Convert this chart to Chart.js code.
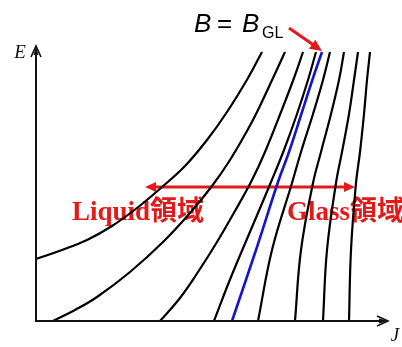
<!DOCTYPE html>
<html>
<head>
<meta charset="utf-8">
<script src="https://cdn.jsdelivr.net/npm/chart.js@4"></script>
<style>
  html, body { margin: 0; padding: 0; background: #ffffff; }
  #wrap { width: 402px; height: 347px; }
</style>
</head>
<body>
<div id="wrap"><canvas id="c" width="402" height="347"></canvas></div>
<script>
// E–J characteristic curves for a family of fields B (schematic units)
const J1 = [0, 26, 51, 76, 101, 126, 149, 171, 191, 212, 226];
const E1 = [62, 71, 81, 95, 113, 134, 155, 181, 209, 243, 269];
const J2 = [17, 39, 61, 94, 127, 154, 176, 194, 211, 221, 237, 249];
const E2 = [0, 11, 24, 49, 79, 108, 135, 161, 190, 209, 243, 269];
const J3 = [124, 144, 162, 181, 199, 216, 229, 245, 258, 267];
const E3 = [0, 23, 49, 79, 110, 141, 169, 209, 243, 269];
const J4 = [178, 193, 208, 222, 235, 248, 261, 272, 280];
const E4 = [0, 39, 75, 108, 139, 171, 207, 241, 269];
// B = B_GL
const JGL = [196, 221, 242, 253, 266, 277, 286];
const EGL = [0, 74, 139, 169, 209, 243, 269];
// glass-side curves share the same E samples
const EG = [0, 71, 138, 169, 207, 241, 269];
const J6 = [222, 236, 256, 265, 277, 287, 294];
const J7 = [259, 265, 277, 285, 295, 303, 308];
const J8 = [287, 291, 300, 306, 313, 318, 322];
const J9 = [313, 315, 320, 324, 328, 331, 334];

const J_MAX = 352;
const E_MAX = 275;

const RED = '#e41a1a';

function pts(js, es) { return js.map((j, i) => ({ x: j, y: es[i] })); }

function curve(js, es, color, width) {
  return {
    data: pts(js, es),
    borderColor: color,
    borderWidth: width,
    pointRadius: 0,
    showLine: true,
    fill: false,
    tension: 0.4,
    clip: false
  };
}

function arrowHead(ctx, x0, y0, x1, y1, len, half) {
  const a = Math.atan2(y1 - y0, x1 - x0);
  ctx.beginPath();
  ctx.moveTo(x1, y1);
  ctx.lineTo(x1 - len * Math.cos(a) + half * Math.sin(a), y1 - len * Math.sin(a) - half * Math.cos(a));
  ctx.lineTo(x1 - len * Math.cos(a) - half * Math.sin(a), y1 - len * Math.sin(a) + half * Math.cos(a));
  ctx.closePath();
  ctx.fill();
}

// Red region arrows and labels go under the curves
const regionLabels = {
  id: 'regionLabels',
  beforeDatasetsDraw(chart) {
    const { ctx, scales: { x, y } } = chart;
    ctx.save();
    ctx.strokeStyle = RED;
    ctx.fillStyle = RED;
    ctx.lineWidth = 3;
    const yA = y.getPixelForValue(134);
    const xL = x.getPixelForValue(109), xR = x.getPixelForValue(319);
    ctx.beginPath();
    ctx.moveTo(xL + 8, yA);
    ctx.lineTo(xR - 8, yA);
    ctx.stroke();
    arrowHead(ctx, xR, yA, xL, yA, 11, 5);
    arrowHead(ctx, xL, yA, xR, yA, 11, 5);

    ctx.font = 'bold 27px "Liberation Serif", "Noto Sans CJK JP", serif';
    ctx.textBaseline = 'alphabetic';
    ctx.textAlign = 'left';
    const yT = y.getPixelForValue(101);
    ctx.fillText('Liquid領域', x.getPixelForValue(36), yT);
    ctx.fillText('Glass領域', x.getPixelForValue(251), yT);
    ctx.restore();
  }
};

// Axes with arrow tips, axis letters and the B = B_GL callout
const axesAndCallout = {
  id: 'axesAndCallout',
  afterDatasetsDraw(chart) {
    const { ctx, scales: { x, y } } = chart;
    const x0 = x.getPixelForValue(0), xEnd = x.getPixelForValue(J_MAX);
    const y0 = y.getPixelForValue(0), yEnd = y.getPixelForValue(E_MAX);
    ctx.save();
    ctx.strokeStyle = '#111';
    ctx.fillStyle = '#111';
    ctx.lineWidth = 2;
    ctx.lineCap = 'butt';
    ctx.beginPath();
    ctx.moveTo(x0, yEnd + 4);
    ctx.lineTo(x0, y0);
    ctx.lineTo(xEnd - 4, y0);
    ctx.stroke();
    // arrow tips
    ctx.lineWidth = 1.6;
    ctx.beginPath();
    ctx.moveTo(x0 - 5, yEnd + 11);
    ctx.lineTo(x0, yEnd);
    ctx.lineTo(x0 + 5, yEnd + 11);
    ctx.stroke();
    arrowHead(ctx, x0, y0, x0, yEnd, 9, 2.5);
    ctx.beginPath();
    ctx.moveTo(xEnd - 11, y0 - 5);
    ctx.lineTo(xEnd, y0);
    ctx.lineTo(xEnd - 11, y0 + 5);
    ctx.stroke();
    arrowHead(ctx, x0, y0, xEnd, y0, 9, 2.5);

    ctx.font = 'italic 19px "Liberation Serif", serif';
    ctx.textBaseline = 'alphabetic';
    ctx.textAlign = 'center';
    ctx.fillText('E', x0 - 16, yEnd + 12);
    ctx.fillText('J', xEnd + 7, y0 + 20);

    // B = B_GL label
    ctx.fillStyle = '#000';
    ctx.textAlign = 'left';
    ctx.font = 'italic 26px "Liberation Sans", Arial, sans-serif';
    ctx.fillText('B', 194, 32);
    ctx.font = '26px "Liberation Sans", Arial, sans-serif';
    ctx.fillText('=', 217, 32);
    ctx.font = 'italic 26px "Liberation Sans", Arial, sans-serif';
    ctx.fillText('B', 242, 32);
    ctx.font = '16px "Liberation Sans", Arial, sans-serif';
    ctx.fillText('GL', 262, 38);

    // callout arrow to the B_GL curve
    ctx.strokeStyle = RED;
    ctx.fillStyle = RED;
    ctx.lineWidth = 3;
    const tx = x.getPixelForValue(286), ty = y.getPixelForValue(270);
    const sx = x.getPixelForValue(253), sy = y.getPixelForValue(293);
    const a = Math.atan2(ty - sy, tx - sx);
    ctx.beginPath();
    ctx.moveTo(sx, sy);
    ctx.lineTo(tx - 9 * Math.cos(a), ty - 9 * Math.sin(a));
    ctx.stroke();
    arrowHead(ctx, sx, sy, tx, ty, 12, 5.5);
    ctx.restore();
  }
};

new Chart(document.getElementById('c'), {
  type: 'scatter',
  data: {
    datasets: [
      curve(J1, E1, '#000', 2.2),
      curve(J2, E2, '#000', 2.2),
      curve(J3, E3, '#000', 2.2),
      curve(J4, E4, '#000', 2.2),
      curve(J6, EG, '#000', 2.2),
      curve(J7, EG, '#000', 2.2),
      curve(J8, EG, '#000', 2.2),
      curve(J9, EG, '#000', 2.2),
      curve(JGL, EGL, '#1414c8', 2.6)
    ]
  },
  options: {
    responsive: false,
    devicePixelRatio: 1,
    animation: false,
    layout: { padding: { left: 36, right: 14, top: 46, bottom: 26 } },
    plugins: { legend: { display: false }, tooltip: { enabled: false } },
    scales: {
      x: { type: 'linear', min: 0, max: J_MAX, display: false },
      y: { type: 'linear', min: 0, max: E_MAX, display: false }
    }
  },
  plugins: [regionLabels, axesAndCallout]
});
</script>
</body>
</html>
